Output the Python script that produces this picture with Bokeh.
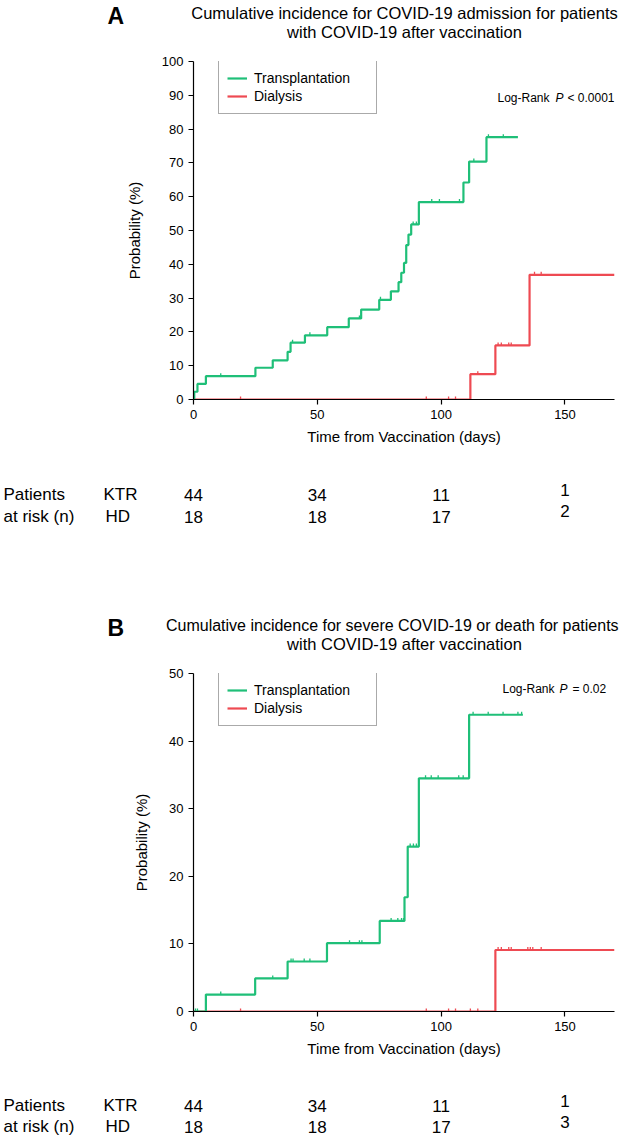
import numpy as np
from bokeh.plotting import figure
from bokeh.models import Range1d, FixedTicker, Legend, LegendItem
from bokeh.core.properties import value
from bokeh.layouts import column
from bokeh.embed import file_html
from bokeh.resources import INLINE

FONT = "Liberation Sans"
GREEN = "#1fbf78"
RED = "#ee4a52"

# ---------------- data: panel A (COVID-19 admission) ----------------
a_tx_times = [0, 0.3, 1.6, 5, 25, 32, 38, 39.2, 45, 54, 62.7, 67.7, 75, 79.7,
              82.8, 83.9, 85, 85.9, 86.8, 87.9, 91, 109, 111.3, 118.3]
a_tx_vals = [0, 2.3, 4.6, 6.9, 9.4, 11.6, 14.1, 16.8, 19.0, 21.4, 24.0, 26.6,
             29.5, 32.0, 34.7, 37.5, 40.4, 45.7, 48.8, 51.8, 58.4, 64.2, 70.4, 77.6]
a_tx_end = 131
a_tx_cens = [11, 40, 47, 67, 75.5, 88.7, 90, 96.2, 99.3, 107.4, 113.2, 119.1, 125.1]

a_hd_times = [0, 111.8, 121.9, 135.7]
a_hd_vals = [0, 7.5, 16.0, 36.9]
a_hd_end = 170
a_hd_cens = [19, 94, 103, 105.8, 114.8, 123, 124.3, 127.3, 128.3, 137.7, 140.4]

# ---------------- data: panel B (severe COVID-19 or death) ----------------
b_tx_times = [0, 5, 24.9, 38, 53.9, 75.2, 85.2, 86.5, 91, 111.3]
b_tx_vals = [0, 2.5, 4.9, 7.4, 10.1, 13.4, 16.9, 24.4, 34.5, 43.9]
b_tx_end = 133
b_tx_cens = [0.8, 1.6, 11, 32, 39.4, 40.2, 44.7, 47, 63, 67, 68, 79.8, 82.5, 84,
             84.8, 87.5, 88.8, 90, 93.7, 96, 98.8, 107.1, 108.9, 112.9, 119, 125,
             131, 132.5]

b_hd_times = [0, 121.9]
b_hd_vals = [0, 9.1]
b_hd_end = 170
b_hd_cens = [19, 94, 103, 105.8, 111.8, 114.8, 123, 124.3, 127.3, 128.3, 135,
             136, 137, 140.4]

# ---------------- numbers at risk ----------------
risk_times = [0, 50, 100, 150]
a_ktr_risk = [44, 34, 11, 1]
a_hd_risk = [18, 18, 17, 2]
b_ktr_risk = [44, 34, 11, 1]
b_hd_risk = [18, 18, 17, 3]

x_ticks = [0, 50, 100, 150]
X_MAX = 170

FIG_W = 625
FRAME_L, FRAME_W = 193, 421
FRAME_R = FIG_W - FRAME_L - FRAME_W
TOP_B, FRAME_H, BOT_B = 10, 338, 51
HEAD_H = 51


def px2day(px):
    return (px - FRAME_L) / FRAME_W * X_MAX


XL = px2day(0)
XR = px2day(FIG_W)


def step_value(times, vals, t):
    i = np.searchsorted(np.asarray(times), t, side="right") - 1
    return vals[max(i, 0)]


def blank(height):
    """A figure whose frame fills it, x in days, y in pixels from its top."""
    p = figure(width=FIG_W, height=height, output_backend="svg",
               toolbar_location=None, x_range=Range1d(XL, XR),
               y_range=Range1d(height, 0), frame_width=FIG_W, frame_height=height,
               min_border=0, x_axis_location=None, y_axis_location=None)
    p.outline_line_color = None
    p.grid.visible = False
    try:
        p.frame_align = False
    except Exception:
        pass
    return p


def txt(p, x, y, text, size, align="left", style="normal"):
    p.text(x=[x], y=[y], text=[text], text_font=value(FONT),
           text_font_size=size, text_align=align, text_baseline="middle",
           text_font_style=style, text_color="black")


def build(ymax, risk_h, titles, letter, lr_parts, lr_py,
          tx_t, tx_v, tx_end, tx_c, hd_t, hd_v, hd_end, hd_c,
          ktr_risk, hd_risk, row_py, last_py):
    # ---- header ----
    h = blank(HEAD_H)
    txt(h, px2day(107), 15, letter, "23px", style="bold")
    for text, cx, cy, size in titles:
        txt(h, px2day(cx), cy, text, size, align="center")

    # ---- plot ----
    height = TOP_B + FRAME_H + BOT_B
    p = figure(width=FIG_W, height=height, output_backend="svg",
               toolbar_location=None, x_range=Range1d(0, X_MAX),
               y_range=Range1d(0, ymax), frame_width=FRAME_W, frame_height=FRAME_H,
               min_border_left=FRAME_L, min_border_right=FRAME_R,
               min_border_top=TOP_B, min_border_bottom=BOT_B)
    p.outline_line_color = None
    p.grid.visible = False

    for ax in (p.xaxis[0], p.yaxis[0]):
        ax.major_tick_in = 0
        ax.major_tick_out = 5
        ax.minor_tick_line_color = None
        ax.axis_line_color = "black"
        ax.axis_line_width = 1.2
        ax.major_tick_line_width = 1.2
        ax.major_label_text_font = FONT
        ax.major_label_text_font_size = "13px"
        ax.major_label_text_color = "black"
        ax.axis_label_text_font = FONT
        ax.axis_label_text_font_size = "15px"
        ax.axis_label_text_font_style = "normal"
        ax.axis_label_text_color = "black"
    p.xaxis.ticker = FixedTicker(ticks=x_ticks)
    p.yaxis.ticker = FixedTicker(ticks=list(range(0, ymax + 1, 10)))
    p.xaxis.axis_label = "Time from Vaccination (days)"
    p.yaxis.axis_label = "Probability (%)"
    p.xaxis.axis_label_standoff = 6
    p.yaxis.axis_label_standoff = 16

    tick_len = 3.0 / FRAME_H * ymax

    renderers = []
    for t, v, end, cens, col in ((hd_t, hd_v, hd_end, hd_c, RED),
                                 (tx_t, tx_v, tx_end, tx_c, GREEN)):
        xs = list(t) + [end]
        ys = list(v) + [v[-1]]
        r = p.step(xs, ys, mode="after", line_color=col, line_width=2.2)
        cy = [step_value(t, v, c) for c in cens]
        p.segment(x0=cens, y0=cy, x1=cens, y1=[y + tick_len for y in cy],
                  line_color=col, line_width=1.3)
        renderers.append(r)
    r_hd, r_tx = renderers

    legend = Legend(items=[LegendItem(label="Transplantation", renderers=[r_tx]),
                           LegendItem(label="Dialysis", renderers=[r_hd])],
                    location=(25, FRAME_H - 53), padding=8, spacing=0, margin=0,
                    glyph_width=20, glyph_height=18, label_height=18,
                    label_width=114, label_standoff=7,
                    label_text_font=FONT, label_text_font_size="14px",
                    label_text_color="black",
                    border_line_color="#555555", border_line_width=1.5,
                    background_fill_color="white", background_fill_alpha=1.0)
    p.add_layout(legend)

    # log-rank annotation (pixel position within plot figure -> data)
    for text, px, style in lr_parts:
        yv = (TOP_B + FRAME_H - lr_py) / FRAME_H * ymax
        txt(p, px2day(px), yv, text, "12px", style=style)

    # ---- numbers at risk ----
    r = blank(risk_h)
    txt(r, px2day(3), row_py[0], "Patients", "17px")
    txt(r, px2day(3), row_py[1], "at risk (n)", "17px")
    txt(r, px2day(103), row_py[0], "KTR", "17px")
    txt(r, px2day(105), row_py[1], "HD", "17px")
    n = len(risk_times)
    y_k = [row_py[0]] * (n - 1) + [last_py[0]]
    y_h = [row_py[1]] * (n - 1) + [last_py[1]]
    r.text(x=risk_times, y=y_k, text=[str(k) for k in ktr_risk],
           text_font=value(FONT), text_font_size="17px", text_align="center",
           text_baseline="middle", text_color="black")
    r.text(x=risk_times, y=y_h, text=[str(k) for k in hd_risk],
           text_font=value(FONT), text_font_size="17px", text_align="center",
           text_baseline="middle", text_color="black")
    return [h, p, r]


panel_a = build(100, 162,
                [("Cumulative incidence for COVID-19 admission for patients", 404, 12.5, "16.5px"),
                 ("with COVID-19 after vaccination", 404, 31, "16.5px")],
                "A",
                [("Log-Rank", 497, "normal"), ("P", 555, "italic"),
                 ("< 0.0001", 567, "normal")],
                46,
                a_tx_times, a_tx_vals, a_tx_end, a_tx_cens,
                a_hd_times, a_hd_vals, a_hd_end, a_hd_cens,
                a_ktr_risk, a_hd_risk, (44, 66), (39, 60))

panel_b = build(50, 73,
                [("Cumulative incidence for severe COVID-19  or death for patients", 394, 12.5, "16px"),
                 ("with COVID-19 after vaccination", 404, 31, "16.5px")],
                "B",
                [("Log-Rank", 502, "normal"), ("P", 559, "italic"),
                 ("= 0.02", 572, "normal")],
                25,
                b_tx_times, b_tx_vals, b_tx_end, b_tx_cens,
                b_hd_times, b_hd_vals, b_hd_end, b_hd_cens,
                b_ktr_risk, b_hd_risk, (43, 64), (38, 59))

layout = column(*panel_a, *panel_b, spacing=0)
open("out.html", "w").write(file_html(layout, INLINE))
